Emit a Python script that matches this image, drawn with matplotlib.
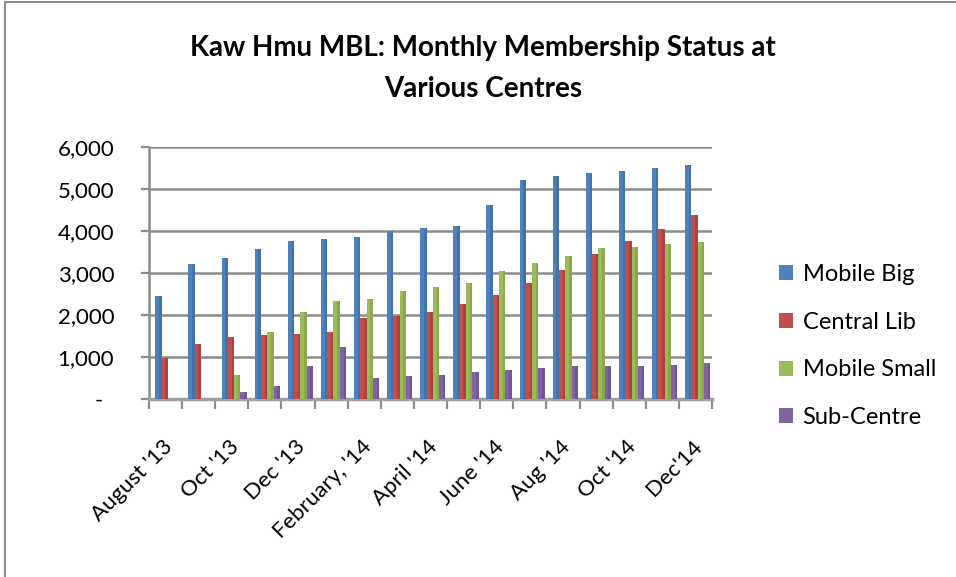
import matplotlib
matplotlib.use("Agg")
import matplotlib.pyplot as plt
from matplotlib.patches import Rectangle, Patch
import numpy as np

months = ["August '13", "Sep '13", "Oct '13", "Nov '13", "Dec '13", "Jan '14",
          "February, '14", "Mar '14", "April '14", "May '14", "June '14", "Jul '14",
          "Aug '14", "Sep '14", "Oct '14", "Nov '14", "Dec'14"]
mobile_big = [2460, 3220, 3360, 3580, 3770, 3800, 3850, 4010, 4080, 4130, 4630,
              5210, 5300, 5380, 5420, 5500, 5560]
central_lib = [970, 1310, 1480, 1520, 1550, 1590, 1940, 1970, 2080, 2260, 2470,
               2760, 3060, 3450, 3760, 4050, 4370]
mobile_small = [0, 0, 560, 1590, 2070, 2330, 2370, 2580, 2660, 2760, 3040,
                3240, 3400, 3590, 3610, 3680, 3730]
sub_centre = [0, 0, 170, 300, 780, 1245, 490, 550, 580, 650, 690, 730, 790,
              790, 790, 820, 850]
series_names = ["Mobile Big", "Central Lib", "Mobile Small", "Sub-Centre"]
colors = ["#4F81BD", "#C0504D", "#9BBB59", "#8064A2"]
dark_colors = ["#3A6699", "#9C3A37", "#7E9B42", "#634C85"]
y_ticks = [0, 1000, 2000, 3000, 4000, 5000, 6000]
y_labels = ["-  ", "1,000", "2,000", "3,000", "4,000", "5,000", "6,000"]
title = "Kaw Hmu MBL: Monthly Membership Status at\nVarious Centres"

plt.rcParams['font.family'] = ['Lato', 'DejaVu Sans']

W, H = 956, 577
fig = plt.figure(figsize=(W / 100, H / 100), dpi=100)
fig.patch.set_facecolor("white")

# outer chart frame
fig.patches.append(Rectangle((5 / W, -0.1), 1.5, 1.1 - 2 / H,
                             transform=fig.transFigure, fill=False,
                             edgecolor="#8c8c8c", lw=1.5))

ax_l, ax_r, ax_b, ax_t = 149, 712, 399, 147
ax = fig.add_axes([ax_l / W, 1 - ax_b / H, (ax_r - ax_l) / W, (ax_b - ax_t) / H])

n = len(months)
x = np.arange(n)
data = [mobile_big, central_lib, mobile_small, sub_centre]
bw = 0.19
offset = 0.07
for k, (vals, c, dc) in enumerate(zip(data, colors, dark_colors)):
    xs = x + offset + (k - 1.5) * bw
    ax.bar(xs, vals, width=bw, color=c, edgecolor="none", zorder=3)
    ax.bar(xs + bw * 0.3, vals, width=bw * 0.4, color=dc, edgecolor="none",
           zorder=3, alpha=0.55)

ax.set_xlim(-0.5, n - 0.5)
ax.set_ylim(0, 6000)
ax.set_yticks(y_ticks)
ax.set_yticklabels(y_labels)
ax.yaxis.grid(True, color="#8c8c8c", lw=1.8, zorder=0)
ax.set_axisbelow(True)

ax.set_xticks(np.arange(n + 1) - 0.5)
ax.set_xticklabels([])
ax.set_xticks(x[::2] - 0.1, [months[i] for i in range(0, n, 2)], minor=True)
ax.tick_params(axis="x", which="major", length=7, width=1.6, color="#8c8c8c")
ax.tick_params(axis="x", which="minor", length=0, pad=27, labelsize=16,
               labelrotation=45)
for lbl in ax.get_xticklabels(minor=True):
    lbl.set_ha("right")
    lbl.set_va("top")
    lbl.set_rotation_mode("anchor")
ax.tick_params(axis="y", length=6, width=1.6, color="#8c8c8c", pad=19,
               labelsize=16)

for s in ["top", "right"]:
    ax.spines[s].set_visible(False)
ax.spines["left"].set_color("#8c8c8c")
ax.spines["left"].set_linewidth(1.8)
ax.spines["bottom"].set_color("#a0a0a0")
ax.spines["bottom"].set_linewidth(2.5)

fig.text(483 / W, 1 - 35 / H, title, ha="center", va="top", fontsize=20,
         fontweight="bold", linespacing=1.7)

handles = [Patch(facecolor=c, edgecolor="none") for c in colors]
fig.legend(handles, series_names, loc="upper left",
           bbox_to_anchor=(779 / W, 1 - 264 / H), frameon=False,
           fontsize=17, handlelength=0.6, handleheight=0.6,
           handletextpad=0.4, labelspacing=1.13, borderpad=0, borderaxespad=0)

fig.savefig("out.png", dpi=100)
